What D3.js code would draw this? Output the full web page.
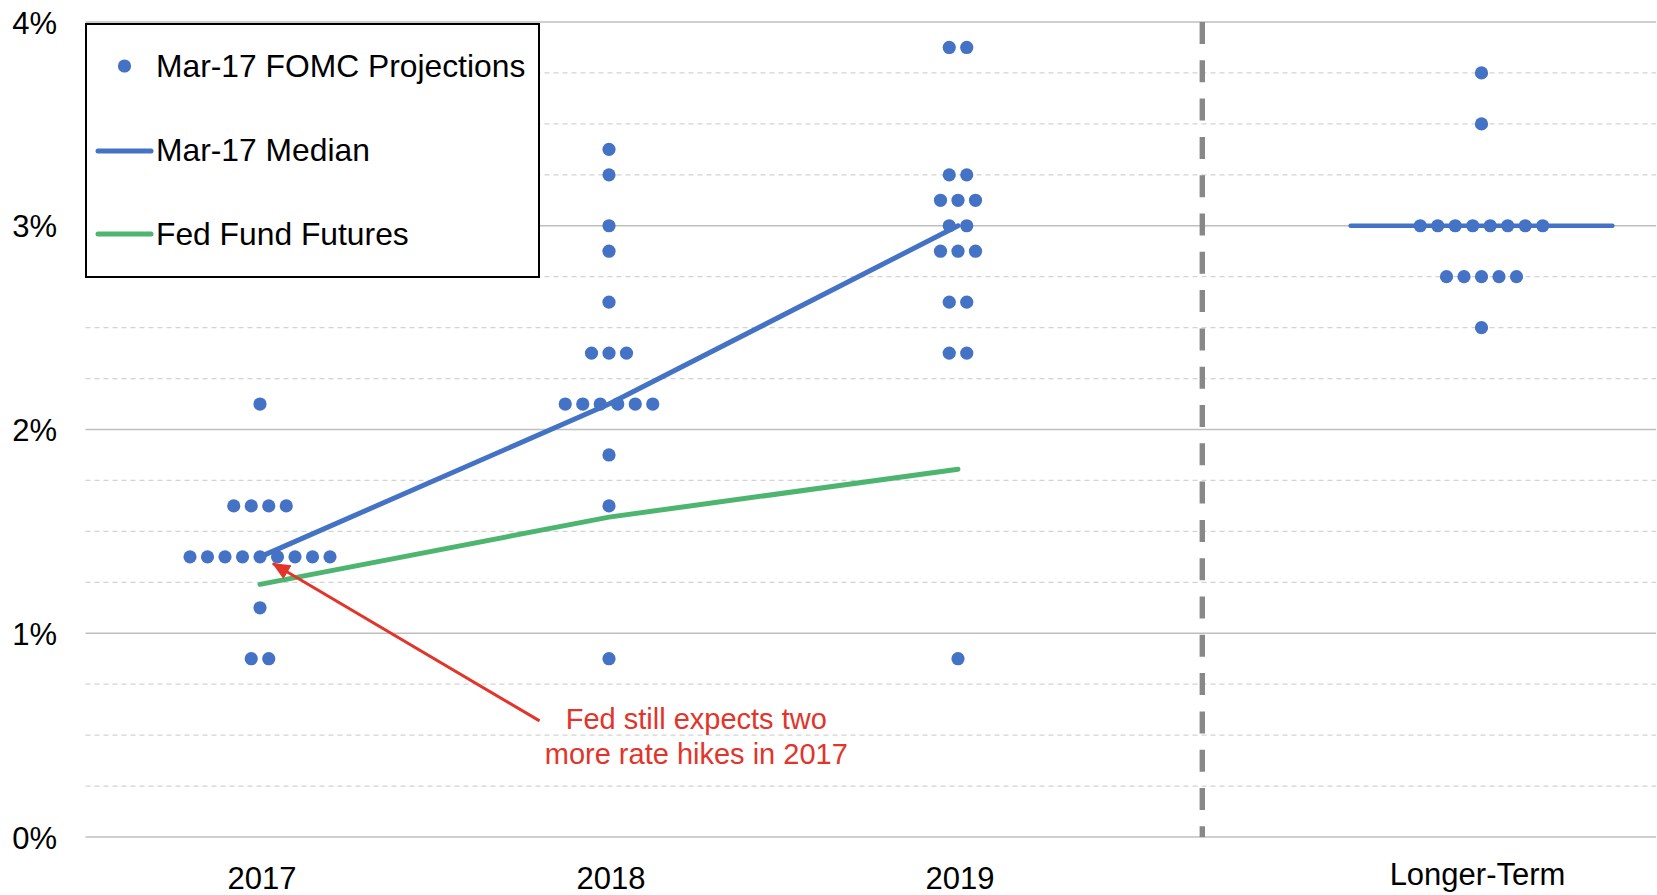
<!DOCTYPE html>
<html>
<head>
<meta charset="utf-8">
<script src="https://cdn.jsdelivr.net/npm/d3@7"></script>
<style>
  html, body { margin: 0; padding: 0; background: #fff; }
  svg { display: block; }
  text { font-family: "Liberation Sans", Arial, sans-serif; }
</style>
</head>
<body>
<svg id="chart" width="1657" height="895"></svg>
<script>
// ---------------- DATA ----------------
const categories = ["2017", "2018", "2019", "Longer-Term"];
const categoryPos = [1, 2, 3, 4.5];

const proj2017 = [2.125,
  1.625, 1.625, 1.625, 1.625,
  1.375, 1.375, 1.375, 1.375, 1.375, 1.375, 1.375, 1.375, 1.375,
  1.125,
  0.875, 0.875];
const proj2018 = [3.375, 3.25, 3.0, 2.875, 2.625,
  2.375, 2.375, 2.375,
  2.125, 2.125, 2.125, 2.125, 2.125, 2.125,
  1.875, 1.625, 0.875];
const proj2019 = [3.875, 3.875,
  3.25, 3.25,
  3.125, 3.125, 3.125,
  3.0, 3.0,
  2.875, 2.875, 2.875,
  2.625, 2.625,
  2.375, 2.375,
  0.875];
const projLonger = [3.75, 3.5,
  3.0, 3.0, 3.0, 3.0, 3.0, 3.0, 3.0, 3.0,
  2.75, 2.75, 2.75, 2.75, 2.75,
  2.5];
const projections = [proj2017, proj2018, proj2019, projLonger];

const medianPos = [1, 2, 3];
const medianValues = [1.375, 2.125, 3.0];
const longerMedianValue = 3.0;
const longerMedianSpan = [4.125, 4.875];

const futuresPos = [1, 2, 3];
const futuresValues = [1.24, 1.57, 1.805];

const yTicks = [0, 1, 2, 3, 4];
const yTickLabels = ["0%", "1%", "2%", "3%", "4%"];
const yMinorTicks = d3.range(0, 4.001, 0.25);
const dividerPos = 3.7;

const legendLabels = ["Mar-17 FOMC Projections", "Mar-17 Median", "Fed Fund Futures"];
const annotationLines = ["Fed still expects two", "more rate hikes in 2017"];
const annotationTextAt = [2.25, 0.53];
const arrowTail = [1.801, 0.570];
const arrowTip = [1.037, 1.342];

// ---------------- STYLE ----------------
const BLUE = "#4472C4", GREEN = "#4DB570", RED = "#E3342A";
const FONT = '"Liberation Sans", Arial, sans-serif';

const svg = d3.select("#chart");
const x = d3.scaleLinear().domain([0.5, 5.0]).range([85.5, 1656]);
const y = d3.scaleLinear().domain([0, 4]).range([837, 22]);

// minor dashed gridlines
svg.append("g").selectAll("line")
  .data(yMinorTicks.filter(v => Math.abs(v - Math.round(v)) > 1e-6))
  .join("line")
  .attr("x1", x(0.5)).attr("x2", x(5.0))
  .attr("y1", d => y(d)).attr("y2", d => y(d))
  .attr("stroke", "#d3d3d3").attr("stroke-width", 1.3)
  .attr("stroke-dasharray", "5,4");

// major solid gridlines
svg.append("g").selectAll("line")
  .data(yTicks)
  .join("line")
  .attr("x1", x(0.5)).attr("x2", x(5.0))
  .attr("y1", d => y(d)).attr("y2", d => y(d))
  .attr("stroke", "#bfbfbf").attr("stroke-width", 1.4);

// y axis labels
const yAxis = d3.axisLeft(y).tickValues(yTicks)
  .tickFormat((d, i) => yTickLabels[i]).tickSize(0).tickPadding(0);
const yg = svg.append("g").attr("transform", "translate(57,0)").call(yAxis);
yg.select(".domain").remove();
yg.selectAll("text").attr("font-family", FONT).attr("font-size", 31)
  .attr("fill", "#000").attr("dy", "0.36em");

// x axis labels
svg.append("g").selectAll("text")
  .data(categories)
  .join("text")
  .attr("x", (d, i) => x(categoryPos[i]) + (i === 3 ? -4 : 2))
  .attr("y", (d, i) => i === 3 ? 885 : 889)
  .attr("text-anchor", "middle")
  .attr("font-family", FONT).attr("font-size", 31).attr("fill", "#000")
  .text(d => d);

// vertical divider
svg.append("line")
  .attr("x1", x(dividerPos)).attr("x2", x(dividerPos))
  .attr("y1", y(4)).attr("y2", y(0))
  .attr("stroke", "#888888").attr("stroke-width", 5.4)
  .attr("stroke-dasharray", "22,16.3");

// fed fund futures line
const line = d3.line().x(d => x(d[0])).y(d => y(d[1]));
svg.append("path")
  .datum(futuresPos.map((p, i) => [p, futuresValues[i]]))
  .attr("d", line).attr("fill", "none")
  .attr("stroke", GREEN).attr("stroke-width", 5).attr("stroke-linecap", "round");

// median line
svg.append("path")
  .datum(medianPos.map((p, i) => [p, medianValues[i]]))
  .attr("d", line).attr("fill", "none")
  .attr("stroke", BLUE).attr("stroke-width", 5).attr("stroke-linecap", "round");

// longer-term median
svg.append("path")
  .datum(longerMedianSpan.map(p => [p, longerMedianValue]))
  .attr("d", line).attr("fill", "none")
  .attr("stroke", BLUE).attr("stroke-width", 4.5).attr("stroke-linecap", "round");

// dots
const DOT_GAP = 17.5;
const dots = [];
projections.forEach((arr, ci) => {
  const groups = d3.group(arr, v => v);
  groups.forEach((vals, v) => {
    const n = vals.length;
    vals.forEach((_, k) => dots.push({ cx: x(categoryPos[ci]) + (k - (n - 1) / 2) * DOT_GAP, v }));
  });
});
svg.append("g").selectAll("circle")
  .data(dots)
  .join("circle")
  .attr("cx", d => d.cx).attr("cy", d => y(d.v))
  .attr("r", 6.6).attr("fill", BLUE);

// annotation arrow
const defs = svg.append("defs");
defs.append("marker")
  .attr("id", "arrowhead").attr("viewBox", "0 0 18 16")
  .attr("refX", 17).attr("refY", 8)
  .attr("markerWidth", 18).attr("markerHeight", 16)
  .attr("markerUnits", "userSpaceOnUse")
  .attr("orient", "auto")
  .append("path").attr("d", "M0,0 L18,8 L0,16 Z").attr("fill", RED);

svg.append("line")
  .attr("x1", x(arrowTail[0])).attr("y1", y(arrowTail[1]))
  .attr("x2", x(arrowTip[0])).attr("y2", y(arrowTip[1]))
  .attr("stroke", RED).attr("stroke-width", 3)
  .attr("marker-end", "url(#arrowhead)");

svg.append("g").selectAll("text")
  .data(annotationLines)
  .join("text")
  .attr("x", x(annotationTextAt[0]))
  .attr("y", (d, i) => y(annotationTextAt[1]) + i * 35)
  .attr("text-anchor", "middle")
  .attr("font-family", FONT).attr("font-size", 29).attr("fill", RED)
  .text(d => d);

// legend
const lg = svg.append("g");
lg.append("rect")
  .attr("x", 86).attr("y", 24).attr("width", 453).attr("height", 253)
  .attr("fill", "#fff").attr("stroke", "#000").attr("stroke-width", 2);
lg.append("circle").attr("cx", 124.5).attr("cy", 66).attr("r", 6.6).attr("fill", BLUE);
lg.append("line").attr("x1", 98).attr("x2", 151).attr("y1", 151).attr("y2", 151)
  .attr("stroke", BLUE).attr("stroke-width", 5).attr("stroke-linecap", "round");
lg.append("line").attr("x1", 98).attr("x2", 151).attr("y1", 234).attr("y2", 234)
  .attr("stroke", GREEN).attr("stroke-width", 5).attr("stroke-linecap", "round");
const legendBaselines = [77, 161, 245];
lg.selectAll("text.leg")
  .data(legendLabels)
  .join("text")
  .attr("class", "leg")
  .attr("x", 156).attr("y", (d, i) => legendBaselines[i])
  .attr("font-family", FONT).attr("font-size", 31.8).attr("fill", "#000")
  .text(d => d);
</script>
</body>
</html>
